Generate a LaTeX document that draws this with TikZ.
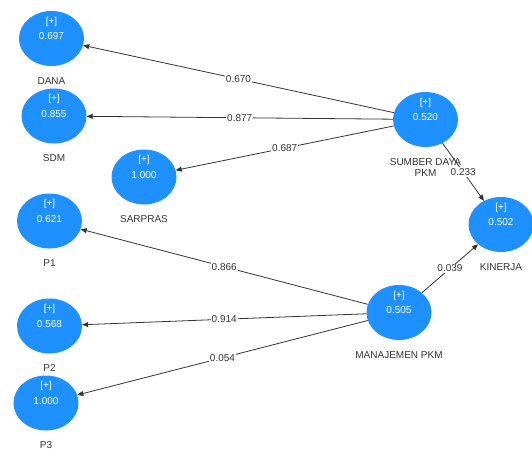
\documentclass[tikz,border=0pt]{standalone}
\usepackage{fontspec}
\setmainfont{Liberation Sans}
\usetikzlibrary{shapes.geometric,arrows.meta}
\definecolor{lvblue}{RGB}{30,144,255}
\definecolor{inkgray}{RGB}{51,51,51}

\begin{document}
\begin{tikzpicture}[x=1pt,y=1pt,yscale=-1,xscale=1,
    lv/.style={ellipse,fill=lvblue,minimum width=65pt,minimum height=55pt,inner sep=0pt},
    lvval/.style={text=white,align=center,inner sep=0pt,yshift=10pt,font=\fontsize{10}{15.5}\selectfont},
    lvname/.style={text=inkgray,align=center,inner sep=0pt,label distance=11pt,font=\fontsize{10}{11}\selectfont},
    link/.style={draw=inkgray,line width=0.8pt,-{Triangle[length=6pt,width=5pt]}},
    coef/.style={fill=white,text=inkgray,inner sep=1pt,font=\fontsize{10}{11}\selectfont}]
  \useasboundingbox (0,0) rectangle (532,448);
  % latent variables
  \node [lv,label={[lvval]center:{[+]\\0.697}},label={[lvname]below:DANA}] (DANA) at (51.5,38.5) {};
  \node [lv,label={[lvval]center:{[+]\\0.855}},label={[lvname]below:SDM}] (SDM) at (54,116) {};
  \node [lv,label={[lvval]center:{[+]\\1.000}},label={[lvname]below:SARPRAS}] (SARPRAS) at (144,177) {};
  \node [lv,label={[lvval]center:{[+]\\0.621}},label={[lvname]below:P1}] (P1) at (49.5,221) {};
  \node [lv,label={[lvval]center:{[+]\\0.568}},label={[lvname]below:P2}] (P2) at (49.5,326) {};
  \node [lv,label={[lvval]center:{[+]\\1.000}},label={[lvname]below:P3}] (P3) at (46,403) {};
  \node [lv,label={[lvval]center:{[+]\\0.520}},label={[lvname]below:{SUMBER DAYA\\PKM}}] (SDPKM) at (425.5,119.5) {};
  \node [lv,label={[lvval]center:{[+]\\0.502}},label={[lvname]below:KINERJA}] (KINERJA) at (501,224.5) {};
  \node [lv,label={[lvval]center:{[+]\\0.505}},label={[lvname]below:MANAJEMEN PKM}] (MPKM) at (399,312.5) {};
  % path coefficients
  \draw [link] (SDPKM) -- node [coef] (c1) {0.670} (DANA);
  \draw [link] (SDPKM) -- node [coef] (c2) {0.877} (SDM);
  \draw [link] (SDPKM) -- node [coef] (c3) {0.687} (SARPRAS.12);
  \draw [link] (SDPKM) -- node [coef] (c4) {0.233} (KINERJA);
  \draw [link] (MPKM) -- node [coef] (c5) {0.039} (KINERJA);
  \draw [link] (MPKM) -- node [coef] (c6) {0.866} (P1);
  \draw [link] (MPKM) -- node [coef] (c7) {0.914} (P2);
  \draw [link] (MPKM) -- node [coef] (c8) {0.054} (P3);
\end{tikzpicture}
\end{document}
